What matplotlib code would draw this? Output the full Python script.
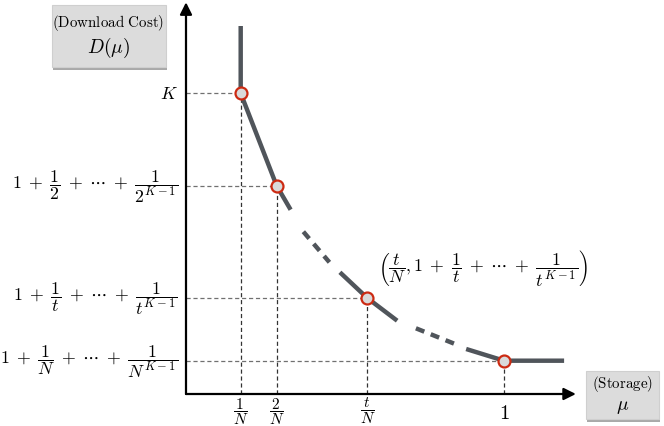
import matplotlib
matplotlib.use("Agg")
import matplotlib.pyplot as plt
from matplotlib.patches import Rectangle

plt.rcParams['mathtext.fontset'] = 'cm'
plt.rcParams['lines.scale_dashes'] = False

# ---- data (schematic) ----
mu_points = [0.172, 0.285, 0.570, 1.0]
D_points = [3.007, 2.083, 0.96, 0.333]
mu_tick_labels = [r'$\dfrac{1}{N}$', r'$\dfrac{2}{N}$', r'$\dfrac{t}{N}$', r'$1$']
D_tick_labels = [r'$K$',
                 r'$1\;+\;\dfrac{1}{2}\;+\;\cdots\;+\;\dfrac{1}{2^{K-1}}$',
                 r'$1\;+\;\dfrac{1}{t}\;+\;\cdots\;+\;\dfrac{1}{t^{K-1}}$',
                 r'$1\;+\;\dfrac{1}{N}\;+\;\cdots\;+\;\dfrac{1}{N^{K-1}}$']

seg1_mu = [0.172, 0.172, 0.285, 0.329]
seg1_D = [3.68, 3.007, 2.083, 1.843]
gap1_mu = [0.369, 0.451]
gap1_D = [1.623, 1.317]
seg2_mu = [0.484, 0.570, 0.664]
seg2_D = [1.217, 0.96, 0.733]
gap2_mu = [0.723, 0.846]
gap2_D = [0.657, 0.50]
seg3_mu = [0.881, 1.0, 1.189]
seg3_D = [0.45, 0.333, 0.333]

annot_text = (r'$\left(\dfrac{t}{N},1\;+\;\dfrac{1}{t}\;+\;\cdots\;+\;'
              r'\dfrac{1}{t^{K-1}}\right)$')

# ---- figure ----
fig = plt.figure(figsize=(6.64, 4.27), dpi=100)
ax = fig.add_axes([0, 0, 1, 1])
ax.set_xlim(-186 / 318, 478 / 318)
ax.set_ylim(-0.32, 3.95)
ax.axis('off')

curve_color = '#50555b'
lw_curve = 3.2

# guides
for m, d in zip(mu_points, D_points):
    ax.plot([0, m], [d, d], color='#707070', lw=0.9, linestyle=(0, (3.0, 2.0)), zorder=1)
    ax.plot([m, m], [0, d], color='#333333', lw=0.9, linestyle=(0, (3.0, 2.0)), zorder=1)

# axes with arrows
ax.annotate('', xy=(1.226, 0), xytext=(0, 0),
            arrowprops=dict(arrowstyle='-|>', lw=1.6, color='black',
                            mutation_scale=18, shrinkA=0, shrinkB=0), zorder=3)
ax.annotate('', xy=(0, 3.917), xytext=(0, 0),
            arrowprops=dict(arrowstyle='-|>', lw=1.6, color='black',
                            mutation_scale=18, shrinkA=0, shrinkB=0), zorder=3)

# curve
for xs, ys in [(seg1_mu, seg1_D), (seg2_mu, seg2_D), (seg3_mu, seg3_D)]:
    ax.plot(xs, ys, color=curve_color, lw=lw_curve, solid_capstyle='butt',
            solid_joinstyle='round', zorder=4)
for xs, ys in [(gap1_mu, gap1_D), (gap2_mu, gap2_D)]:
    ax.plot(xs, ys, color=curve_color, lw=lw_curve, linestyle=(0, (6.5, 5.0)),
            dash_capstyle='butt', zorder=4)

ax.plot(mu_points, D_points, linestyle='none', marker='o', markersize=8.6,
        markerfacecolor='#dadada', markeredgecolor='#cc2a12', markeredgewidth=1.6,
        zorder=5)

# tick labels
for m, lab in zip(mu_points, mu_tick_labels):
    big = lab == r'$1$'
    ax.text(m, -0.18 if big else -0.163, lab, ha='center', va='center',
            fontsize=15 if big else 11)
for d, lab in zip(D_points, D_tick_labels):
    ax.text(-0.025, d, lab, ha='right', va='center', fontsize=12.8)

# annotation
ax.text(0.933, 1.27, annot_text, ha='center', va='center', fontsize=12.8)

# label boxes
def box(x0, x1, y0, y1):
    ax.add_patch(Rectangle((x0 + 0.003, y0 - 0.025), x1 - x0, y1 - y0,
                           facecolor='#a9a9a9', edgecolor='none', zorder=6))
    ax.add_patch(Rectangle((x0, y0), x1 - x0, y1 - y0,
                           facecolor='#dcdcdc', edgecolor='#cfcfcf', lw=0.8, zorder=7))

box(-0.420, -0.064, 3.27, 3.893)
ax.text(-0.245, 3.723, r'$\mathrm{(Download\ Cost)}$', ha='center', va='center',
        fontsize=10.8, zorder=8)
ax.text(-0.245, 3.47, r'$D(\mu)$', ha='center', va='center', fontsize=14, zorder=8)

box(1.258, 1.488, -0.25, 0.233)
ax.text(1.373, 0.11, r'$\mathrm{(Storage)}$', ha='center', va='center',
        fontsize=10.8, zorder=8)
ax.text(1.373, -0.12, r'$\mu$', ha='center', va='center', fontsize=14, zorder=8)

fig.savefig('out.png', dpi=100)
